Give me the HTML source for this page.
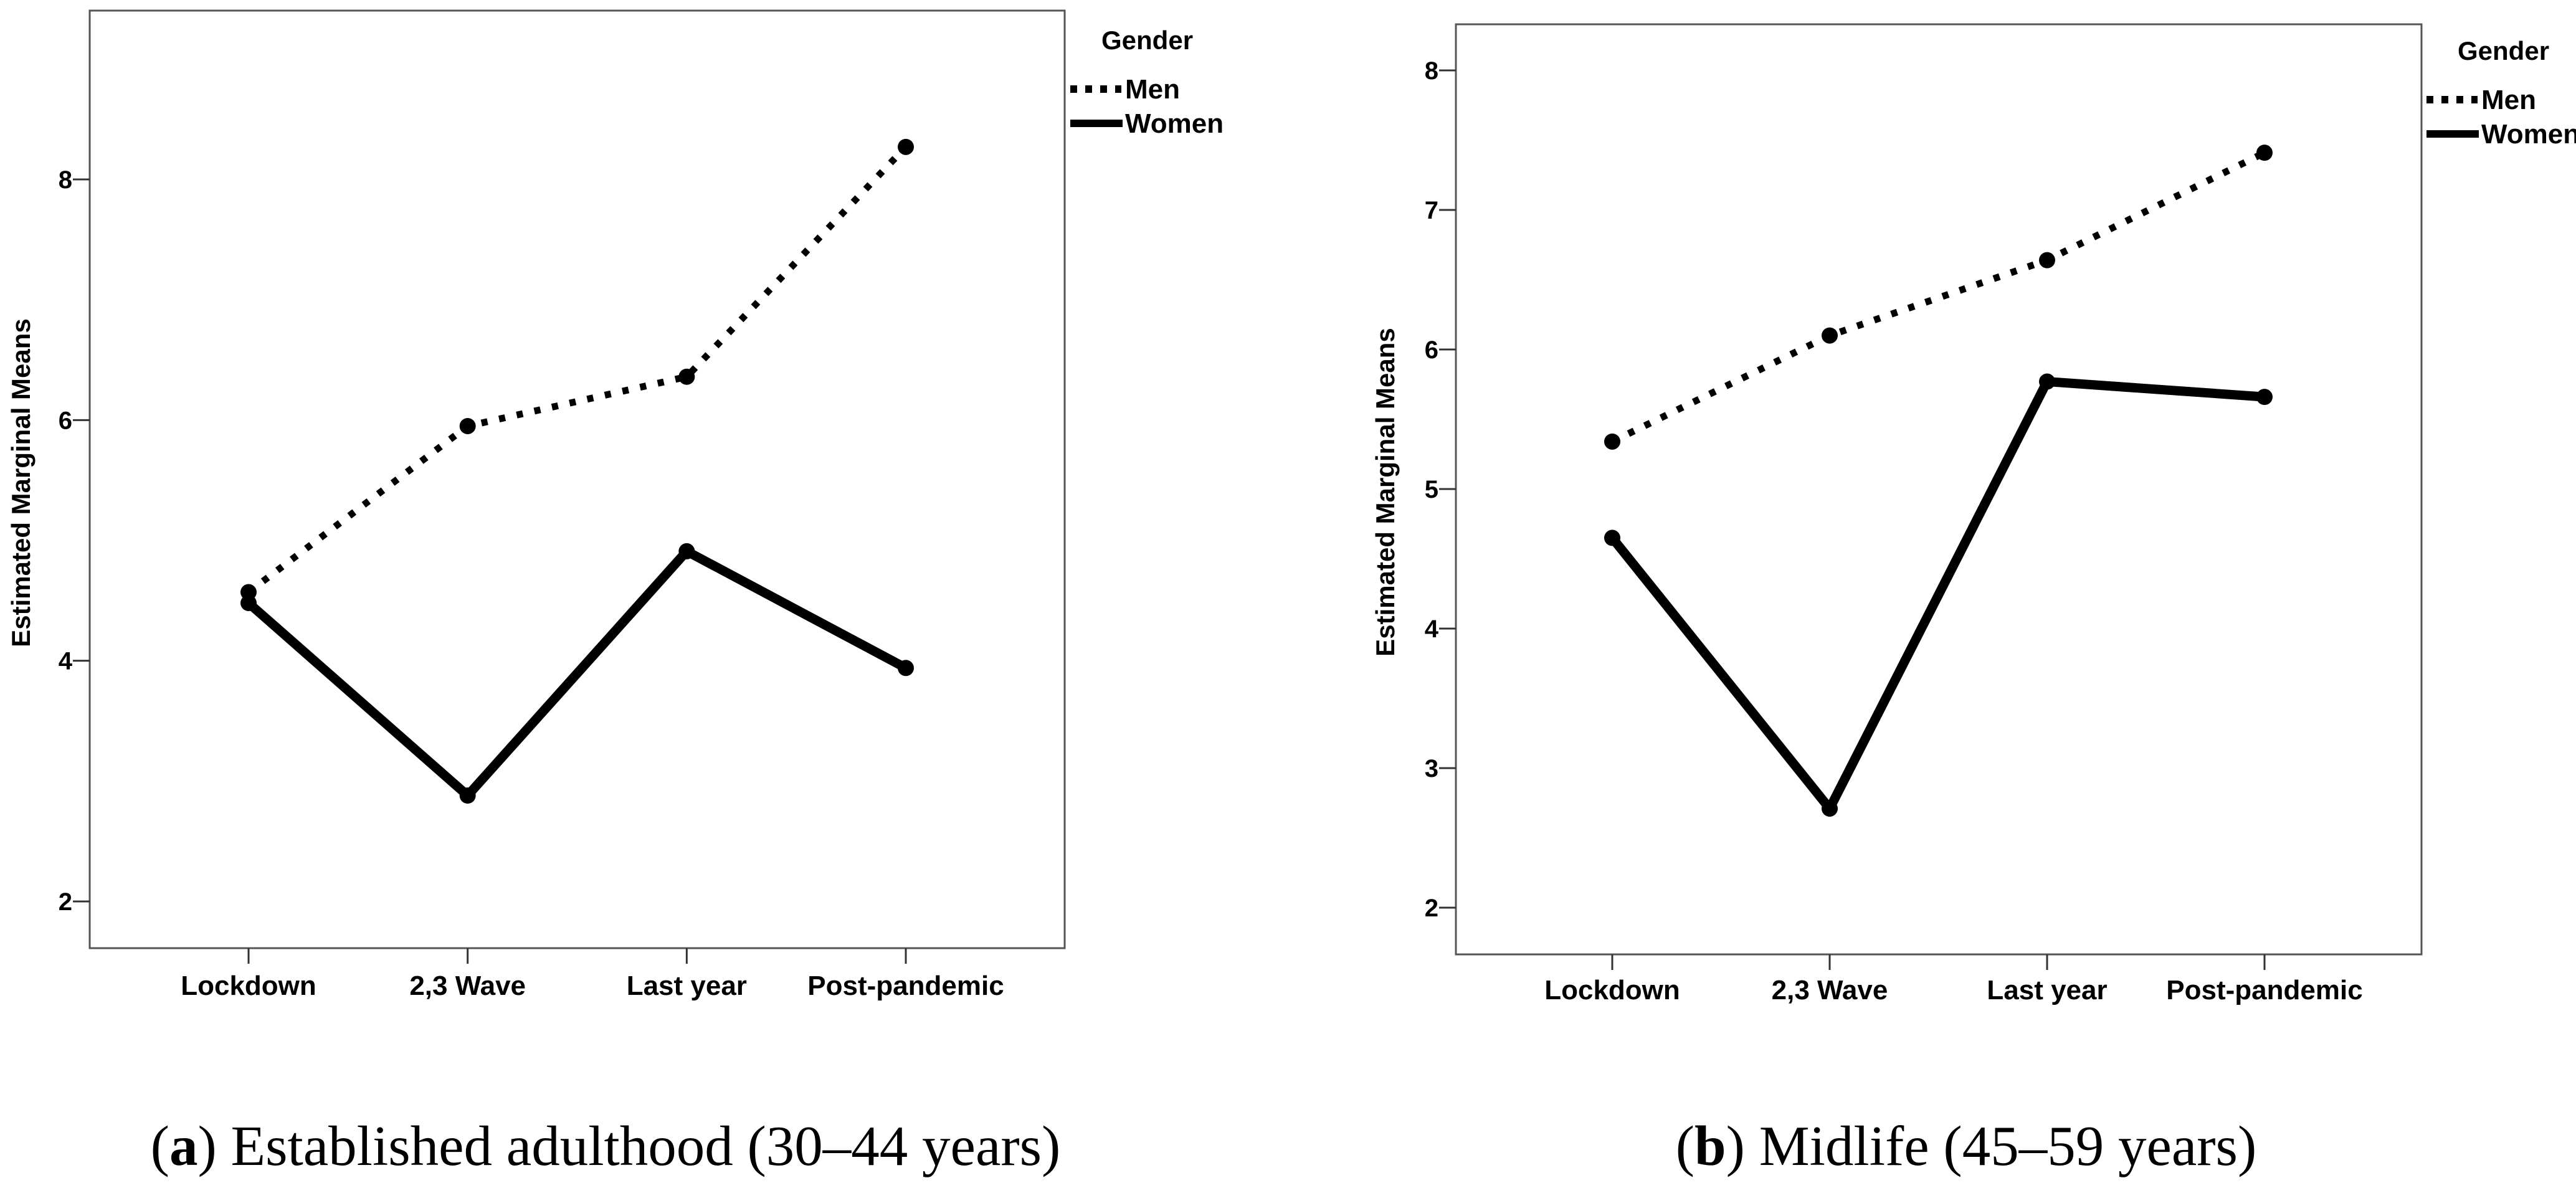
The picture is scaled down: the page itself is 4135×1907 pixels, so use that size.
<!DOCTYPE html>
<html><head><meta charset="utf-8"><style>
body{margin:0;background:#fff}
svg{display:block}
text{font-family:"Liberation Sans",Arial,sans-serif;font-weight:bold;fill:#000}
.cap{font-family:"Liberation Serif",serif;font-weight:normal}
</style></head><body>
<svg id="chart" width="4135" height="1907" viewBox="0 0 4135 1907" xmlns="http://www.w3.org/2000/svg"></svg>
<script>
const categories = ["Lockdown","2,3 Wave","Last year","Post-pandemic"];
const menA = [4.57, 5.95, 6.36, 8.27];
const womenA = [4.48, 2.88, 4.91, 3.94];
const ticksA = [2, 4, 6, 8];
const menB = [5.34, 6.10, 6.64, 7.41];
const womenB = [4.65, 2.71, 5.77, 5.66];
const ticksB = [2, 3, 4, 5, 6, 7, 8];

const NS = "http://www.w3.org/2000/svg";
const svg = document.getElementById("chart");
function mk(tag, attrs, parent, txt){
  const e = document.createElementNS(NS, tag);
  for (const k in attrs) e.setAttribute(k, attrs[k]);
  if (txt !== undefined) e.textContent = txt;
  (parent || svg).appendChild(e);
  return e;
}

function panel(cfg){
  const g = mk("g", {});
  
  
  const y = v => cfg.y0px + (v - cfg.y0val) * (cfg.y1px - cfg.y0px) / (cfg.y1val - cfg.y0val);
  const x = i => cfg.xs0 + i * (cfg.xs1 - cfg.xs0) / (categories.length - 1);
  const box = mk("rect", {x:cfg.L, y:cfg.T, width:cfg.R-cfg.L, height:cfg.B-cfg.T, fill:"none", stroke:"#555", "stroke-width":3}, g);
  
  
  cfg.ticks.forEach(t => {
    const tk = mk("line", {x1:cfg.L-27, x2:cfg.L, y1:y(t), y2:y(t), stroke:"#333", "stroke-width":3}, g);
    
    
    const tl = mk("text", {x:cfg.L-28, y:y(t)+14, "text-anchor":"end", "font-size":40}, g, String(t));
    
    
  });
  categories.forEach((c,i) => {
    const tk = mk("line", {x1:x(i), x2:x(i), y1:cfg.B, y2:cfg.B+25, stroke:"#333", "stroke-width":3}, g);
    
    
    const tl = mk("text", {x:x(i), y:cfg.catY+16, "text-anchor":"middle", "font-size":44}, g, c);
    
    
  });
  const yt = mk("text", {x:0, y:0, "text-anchor":"middle", "font-size":42, transform:`translate(${cfg.ytX+15},${cfg.ytY}) rotate(-90)`}, g, "Estimated Marginal Means");
  
  

  const wp = cfg.women.map((v,i)=>x(i)+","+y(v)).join(" ");
  const wl = mk("polyline", {points:wp, fill:"none", stroke:"#000", "stroke-width":15, "stroke-linejoin":"round"}, g);
  
  
  const mp = cfg.men.map((v,i)=>x(i)+","+y(v)).join(" ");
  const ml = mk("polyline", {points:mp, fill:"none", stroke:"#000", "stroke-width":11, "stroke-dasharray":"10 19"}, g);
  
  
  cfg.women.forEach((v,i)=>{
    const p = mk("circle", {cx:x(i), cy:y(v), r:13, fill:"#000"}, g);
    
    
  });
  cfg.men.forEach((v,i)=>{
    const p = mk("circle", {cx:x(i), cy:y(v), r:13, fill:"#000"}, g);
    
    
  });

  const lg = mk("g", {}, g);
  
  
  const lt = mk("text", {x:cfg.lgX+50, y:cfg.lgY+15, "font-size":42}, lg, "Gender");
  
  
  const ml2 = mk("line", {x1:cfg.lgX, x2:cfg.lgX+82, y1:cfg.lgY+79, y2:cfg.lgY+79, stroke:"#000", "stroke-width":12, "stroke-dasharray":"11 13"}, lg);
  
  
  const mt = mk("text", {x:cfg.lgX+88, y:cfg.lgY+94, "font-size":44}, lg, "Men");
  
  
  const wl2 = mk("line", {x1:cfg.lgX, x2:cfg.lgX+84, y1:cfg.lgY+134, y2:cfg.lgY+134, stroke:"#000", "stroke-width":12}, lg);
  
  
  const wt = mk("text", {x:cfg.lgX+88, y:cfg.lgY+149, "font-size":44}, lg, "Women");
  
  
}

panel({name:"panel-a", L:144, R:1709, T:17, B:1522, y0val:2, y0px:1447, y1val:8, y1px:288,
  xs0:399, xs1:1454, ticks:ticksA, men:menA, women:womenA, catY:1581, ytX:33, ytY:775,
  lgX:1718, lgY:64});
panel({name:"panel-b", L:2337, R:3887, T:39, B:1532, y0val:2, y0px:1457, y1val:8, y1px:113,
  xs0:2588, xs1:3635, ticks:ticksB, men:menB, women:womenB, catY:1588, ytX:2223, ytY:790,
  lgX:3895, lgY:81});

const ca = mk("text", {x:972, y:1870, "text-anchor":"middle", "font-size":91, class:"cap"});


ca.innerHTML = '(<tspan font-weight="bold">a</tspan>) Established adulthood (30–44 years)';
const cb = mk("text", {x:3156, y:1870, "text-anchor":"middle", "font-size":91, class:"cap"});


cb.innerHTML = '(<tspan font-weight="bold">b</tspan>) Midlife (45–59 years)';
</script>
</body></html>
